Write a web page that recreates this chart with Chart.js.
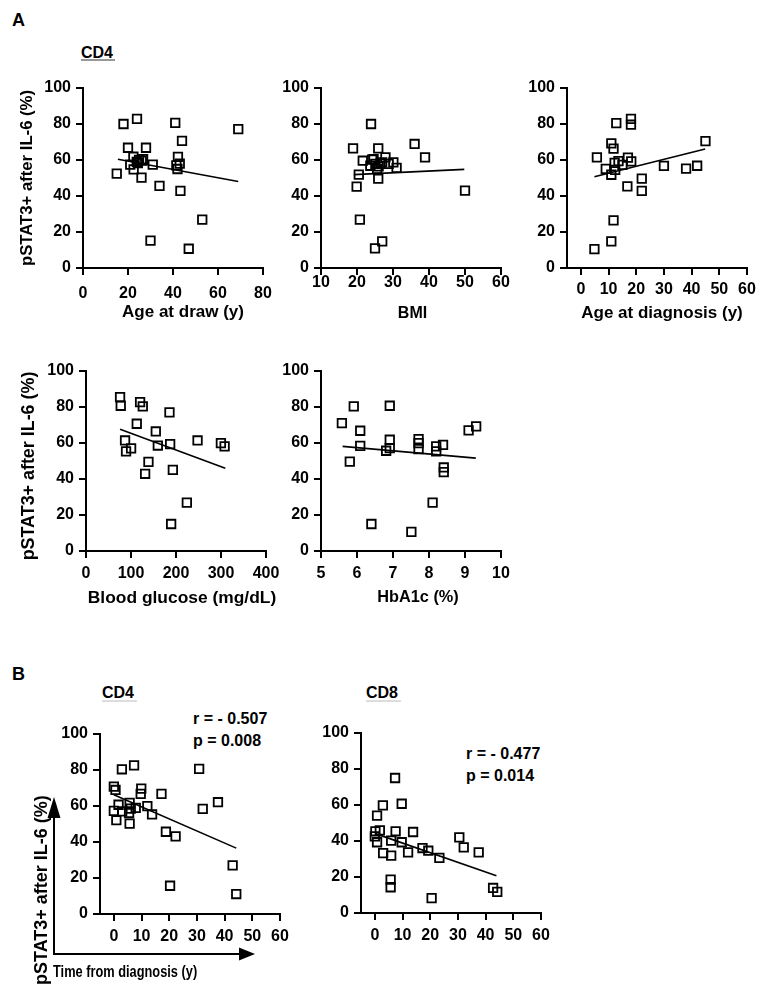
<!DOCTYPE html>
<html><head><meta charset="utf-8">
<script src="https://cdn.jsdelivr.net/npm/chart.js@4.4.1/dist/chart.umd.min.js"></script>
<style>
html,body{margin:0;padding:0;background:#fff;}
#wrap{position:relative;width:766px;height:994px;background:#fff;overflow:hidden;font-family:"Liberation Sans",Arial,sans-serif;font-weight:bold;color:#000;}
canvas{position:absolute;}
.lbl{position:absolute;white-space:nowrap;line-height:1;font-weight:bold;}
.ul{position:absolute;height:1.5px;background:#999;}
</style></head><body><div id="wrap">
<div class="lbl" style="left:12px;top:10.7px;font-size:18px;">A</div>
<div class="lbl" style="left:81px;top:45px;font-size:16px;">CD4</div>
<div class="ul" style="left:81px;top:59px;width:34px;"></div>
<div class="lbl" style="left:12px;top:664.7px;font-size:18px;">B</div>
<div class="lbl" style="left:102px;top:685px;font-size:16px;">CD4</div>
<div class="ul" style="left:102px;top:700px;width:35px;background:#ddd;"></div>
<div class="lbl" style="left:366px;top:685px;font-size:16px;">CD8</div>
<div class="ul" style="left:366px;top:700px;width:35px;background:#ddd;"></div>
<div class="lbl" style="left:193px;top:711px;font-size:16px;">r = - 0.507</div>
<div class="lbl" style="left:193px;top:733px;font-size:16px;">p = 0.008</div>
<div class="lbl" style="left:466px;top:746px;font-size:16px;">r = - 0.477</div>
<div class="lbl" style="left:466px;top:768px;font-size:16px;">p = 0.014</div>
</div>
<script>
// ---------------- data ----------------
const yTicks = [0, 20, 40, 60, 80, 100];

// A1: CD4 pSTAT3+ vs age at draw
const ageAtDraw = [15, 18, 20, 21, 22.5, 24, 26, 28, 31, 34, 30, 22.4, 23.9, 24.9, 26.1, 26.7, 24.4, 41, 44, 42.2, 41.5, 43, 42, 43.3, 53, 47, 69];
const pstatByAgeDraw = [52.4, 80, 66.8, 57.4, 54.8, 82.8, 50.2, 66.8, 57.4, 45.6, 15.2, 61.8, 59, 60, 59.6, 60.5, 58.3, 80.6, 70.6, 61.7, 57, 58, 55, 42.8, 26.9, 10.7, 77.2];
const ageDrawFitX = [15.5, 69];
const ageDrawFitY = [60.4, 48.1];
const ageDrawTicks = [0, 20, 40, 60, 80];

// A2: vs BMI
const bmi = [18.9, 23.9, 21.6, 20.5, 19.9, 20.8, 25.9, 25, 27, 25.9, 36, 38.9, 50, 31, 30.1, 27.9, 24.2, 23.7, 25.1, 26, 27, 28.8, 25.6, 24.6, 26.5];
const pstatByBmi = [66.5, 80, 59.6, 51.9, 45.2, 26.9, 66.5, 10.9, 14.8, 49.6, 68.9, 61.5, 43, 55.6, 58.7, 61.5, 60.2, 56.8, 57.8, 56.4, 58.7, 57.8, 55, 60.5, 58];
const bmiFitX = [19.1, 49.8];
const bmiFitY = [51.9, 54.8];
const bmiTicks = [10, 20, 30, 40, 50, 60];

// A3: vs age at diagnosis
const ageAtDiagnosis = [4.9, 11, 11.8, 5.8, 12.8, 18.1, 18.1, 11, 11.8, 9, 11, 16.8, 22, 22, 30, 38, 42, 45, 17, 18.2, 13.6, 15, 12.2, 12.4];
const pstatByAgeDiag = [10.5, 14.8, 26.5, 61.5, 80.5, 82.8, 79.6, 69.2, 66.3, 55.1, 51.8, 45.3, 49.7, 42.8, 56.7, 55.2, 56.8, 70.5, 61.3, 59.2, 59.4, 57.3, 58.4, 54.5];
const ageDiagFitX = [4.9, 44.9];
const ageDiagFitY = [50.7, 66.1];
const ageDiagTicks = [0, 10, 20, 30, 40, 50, 60];

// A4: vs blood glucose
const bloodGlucose = [75.7, 77.2, 120.2, 126.2, 112.8, 185.5, 155.1, 86.8, 89, 100.2, 159.6, 187, 138.8, 131.4, 193, 247.9, 299.8, 308, 224.1, 189.2];
const pstatByGlucose = [85.5, 80.7, 82.7, 80.3, 70.7, 77, 66.4, 61.4, 55.3, 57, 58.6, 59.4, 49.5, 42.9, 45.1, 61.4, 59.9, 58.1, 26.9, 15];
const glucoseFitX = [75.7, 309.5];
const glucoseFitY = [67.7, 46.0];
const glucoseTicks = [0, 100, 200, 300, 400];

// A5: vs HbA1c
const hba1c = [5.58, 5.91, 5.8, 6.09, 6.09, 6.4, 6.91, 6.91, 6.91, 6.81, 7.71, 7.71, 7.71, 7.51, 8.1, 8.2, 8.2, 8.39, 8.41, 8.41, 9.1, 9.31];
const pstatByHba1c = [71, 80.3, 49.7, 66.8, 58.4, 15, 80.7, 61.8, 57.1, 55.7, 62.2, 59.9, 56.6, 10.6, 26.9, 58.1, 55.3, 59, 46.4, 43.8, 67, 69.2];
const hba1cFitX = [5.6, 9.3];
const hba1cFitY = [58.1, 51.6];
const hba1cTicks = [5, 6, 7, 8, 9, 10];

// B1: CD4 vs time from diagnosis
const cd4TimeFromDiag = [0, 0.6, 0, 0.9, 2.9, 7.3, 9.9, 9.7, 17.2, 30.8, 32.1, 37.6, 18.8, 22.3, 20.3, 42.9, 44.2, 13.8, 12.1, 5.7, 7.9, 1.7, 3, 6.1, 5.5, 5.7];
const cd4Pstat = [70.8, 68.9, 57.3, 52.1, 80.4, 82.6, 69.7, 66.7, 66.7, 80.6, 58.4, 62.1, 45.7, 43.1, 15.7, 27, 11.1, 55.3, 59.9, 50.2, 59, 60.7, 57, 58.5, 56.1, 61.7];
const cd4FitX = [0, 44.2];
const cd4FitY = [66.2, 36.6];

// B2: CD8 vs time from diagnosis
const cd8TimeFromDiag = [7.3, 9.7, 2.9, 0.8, 0.2, 1.8, 0, 0.8, 3, 5.9, 5.9, 7.5, 9.7, 12, 13.8, 17.2, 19.3, 23.3, 30.5, 32.1, 37.5, 5.7, 5.7, 20.5, 42.7, 44.2];
const cd8Pstat = [75, 60.7, 59.8, 54.1, 45.4, 45.9, 42.6, 39.3, 33.3, 31.9, 40.2, 45.4, 39.3, 33.7, 45, 36.1, 34.6, 30.6, 42, 36.5, 33.7, 18.5, 14.3, 8.3, 13.9, 11.7];
const cd8FitX = [0.2, 43.9];
const cd8FitY = [44.1, 20.7];
const timeTicks = [0, 10, 20, 30, 40, 50, 60];

const yTitle = 'pSTAT3+ after IL-6 (%)';

// ---------------- drawing ----------------
const FONT = '"Liberation Sans", Arial, sans-serif';
const wrap = document.getElementById('wrap');

const decor = {
  id: 'decor',
  afterDraw(chart, args, o) {
    const ctx = chart.ctx, ca = chart.chartArea;
    ctx.save();
    ctx.fillStyle = '#000';
    ctx.strokeStyle = '#000';
    (o.texts || []).forEach(t => {
      ctx.save();
      ctx.font = 'bold ' + t.size + 'px ' + FONT;
      ctx.textAlign = t.align || 'center';
      ctx.textBaseline = 'middle';
      ctx.translate(ca.left + t.dx, ca.top + t.dy);
      if (t.rot) ctx.rotate(t.rot);
      if (t.sx) ctx.scale(t.sx, 1);
      ctx.fillText(t.text, 0, 0);
      ctx.restore();
    });
    (o.arrows || []).forEach(a => {
      const x1 = ca.left + a.x1, y1 = ca.top + a.y1, x2 = ca.left + a.x2, y2 = ca.top + a.y2;
      const ang = Math.atan2(y2 - y1, x2 - x1);
      const L = a.head, W = a.half;
      const bx = x2 - L * Math.cos(ang), by = y2 - L * Math.sin(ang);
      ctx.lineWidth = 2;
      ctx.beginPath(); ctx.moveTo(x1, y1); ctx.lineTo(bx, by); ctx.stroke();
      ctx.beginPath(); ctx.moveTo(x2, y2);
      ctx.lineTo(bx + W * Math.sin(ang), by - W * Math.cos(ang));
      ctx.lineTo(bx - W * Math.sin(ang), by + W * Math.cos(ang));
      ctx.closePath(); ctx.fill();
    });
    ctx.restore();
  }
};

function makePanel(p) {
  const padTop = p.padTop || 15, padBottom = p.padBottom || 0, padRight = 25;
  const W = 70, H = 60, S = 180;
  const cv = document.createElement('canvas');
  const cw = W + S + padRight, ch = padTop + S + H + padBottom;
  cv.width = cw; cv.height = ch;
  cv.style.left = (p.axisX - W) + 'px';
  cv.style.top = (p.y100 - padTop) + 'px';
  cv.style.width = cw + 'px'; cv.style.height = ch + 'px';
  wrap.appendChild(cv);
  const pts = p.xs.map((x, i) => ({x: x, y: p.ys[i]}));
  const fit = p.fx.map((x, i) => ({x: x, y: p.fy[i]}));
  const tickFont = {family: FONT, size: 16, weight: 'bold'};
  const grid = {display: true, drawOnChartArea: false, drawTicks: true, tickLength: 7, color: '#000', tickColor: '#000', lineWidth: 2, tickWidth: 2};
  new Chart(cv, {
    type: 'scatter',
    data: {datasets: [
      {data: pts, pointStyle: 'rect', pointRadius: 6, pointHoverRadius: 6, borderWidth: 1.8, pointBorderWidth: 1.8,
       borderColor: '#000', pointBorderColor: '#000', backgroundColor: 'rgba(0,0,0,0)', pointBackgroundColor: 'rgba(0,0,0,0)'},
      {data: fit, showLine: true, pointRadius: 0, pointHoverRadius: 0, borderColor: '#000', borderWidth: 1.6, fill: false}
    ]},
    options: {
      responsive: false, animation: false, devicePixelRatio: 1,
      events: [],
      layout: {padding: {top: padTop, right: padRight, bottom: padBottom, left: 0}},
      plugins: {legend: {display: false}, tooltip: {enabled: false}, decor: {texts: p.texts, arrows: p.arrows || []}},
      scales: {
        x: {type: 'linear', position: 'bottom', min: p.xMin, max: p.xMax,
          afterBuildTicks: s => { s.ticks = p.xTicks.map(v => ({value: v})); },
          afterFit: s => { s.height = H; },
          grid: grid,
          border: {display: true, color: '#000', width: 2},
          ticks: {color: '#000', padding: p.tickPad, font: tickFont, maxRotation: 0, autoSkip: false}
        },
        y: {type: 'linear', position: 'left', min: 0, max: 100,
          afterBuildTicks: s => { s.ticks = yTicks.map(v => ({value: v})); },
          afterFit: s => { s.width = W; },
          grid: grid,
          border: {display: true, color: '#000', width: 2},
          ticks: {color: '#000', padding: 5, font: tickFont, autoSkip: false}
        }
      }
    },
    plugins: [decor]
  });
}

const R90 = -Math.PI / 2;
makePanel({axisX: 83, y100: 88, xMin: 0, xMax: 80, xTicks: ageDrawTicks, xs: ageAtDraw, ys: pstatByAgeDraw,
  fx: ageDrawFitX, fy: ageDrawFitY, tickPad: 9,
  texts: [{text: 'Age at draw (y)', dx: 100, dy: 224, size: 17},
          {text: yTitle, dx: -56, dy: 90, rot: R90, size: 16.7}]});
makePanel({axisX: 321, y100: 87.5, xMin: 10, xMax: 60, xTicks: bmiTicks, xs: bmi, ys: pstatByBmi,
  fx: bmiFitX, fy: bmiFitY, tickPad: -2,
  texts: [{text: 'BMI', dx: 91.5, dy: 225.4, size: 16}]});
makePanel({axisX: 567, y100: 87.5, xMin: -5, xMax: 60, xTicks: ageDiagTicks, xs: ageAtDiagnosis, ys: pstatByAgeDiag,
  fx: ageDiagFitX, fy: ageDiagFitY, tickPad: 4.7,
  texts: [{text: 'Age at diagnosis (y)', dx: 95, dy: 225.5, size: 17}]});
makePanel({axisX: 86, y100: 371, xMin: 0, xMax: 400, xTicks: glucoseTicks, xs: bloodGlucose, ys: pstatByGlucose,
  fx: glucoseFitX, fy: glucoseFitY, tickPad: 6,
  texts: [{text: 'Blood glucose (mg/dL)', dx: 96, dy: 227, size: 17.4},
          {text: yTitle, dx: -57, dy: 95, rot: R90, size: 17.9}]});
makePanel({axisX: 321, y100: 371, xMin: 5, xMax: 10, xTicks: hba1cTicks, xs: hba1c, ys: pstatByHba1c,
  fx: hba1cFitX, fy: hba1cFitY, tickPad: 5.7,
  texts: [{text: 'HbA1c (%)', dx: 97, dy: 227, size: 16.3}]});
makePanel({axisX: 100, y100: 734, xMin: -5, xMax: 60, xTicks: timeTicks, xs: cd4TimeFromDiag, ys: cd4Pstat,
  fx: cd4FitX, fy: cd4FitY, tickPad: 6.4, padBottom: 20,
  texts: [{text: 'Time from diagnosis (y)', dx: -47, dy: 239, size: 16, sx: 0.8, align: 'left'},
          {text: yTitle, dx: -58, dy: 251, rot: R90, size: 18, align: 'left'}],
  arrows: [{x1: -46, y1: 220, x2: -46, y2: 63, head: 21, half: 6.5},
           {x1: -47, y1: 220, x2: 155, y2: 220, head: 16, half: 6.5}]});
makePanel({axisX: 361, y100: 733.3, xMin: -5, xMax: 60, xTicks: timeTicks, xs: cd8TimeFromDiag, ys: cd8Pstat,
  fx: cd8FitX, fy: cd8FitY, tickPad: 6.4,
  texts: []});
</script>
</body></html>
